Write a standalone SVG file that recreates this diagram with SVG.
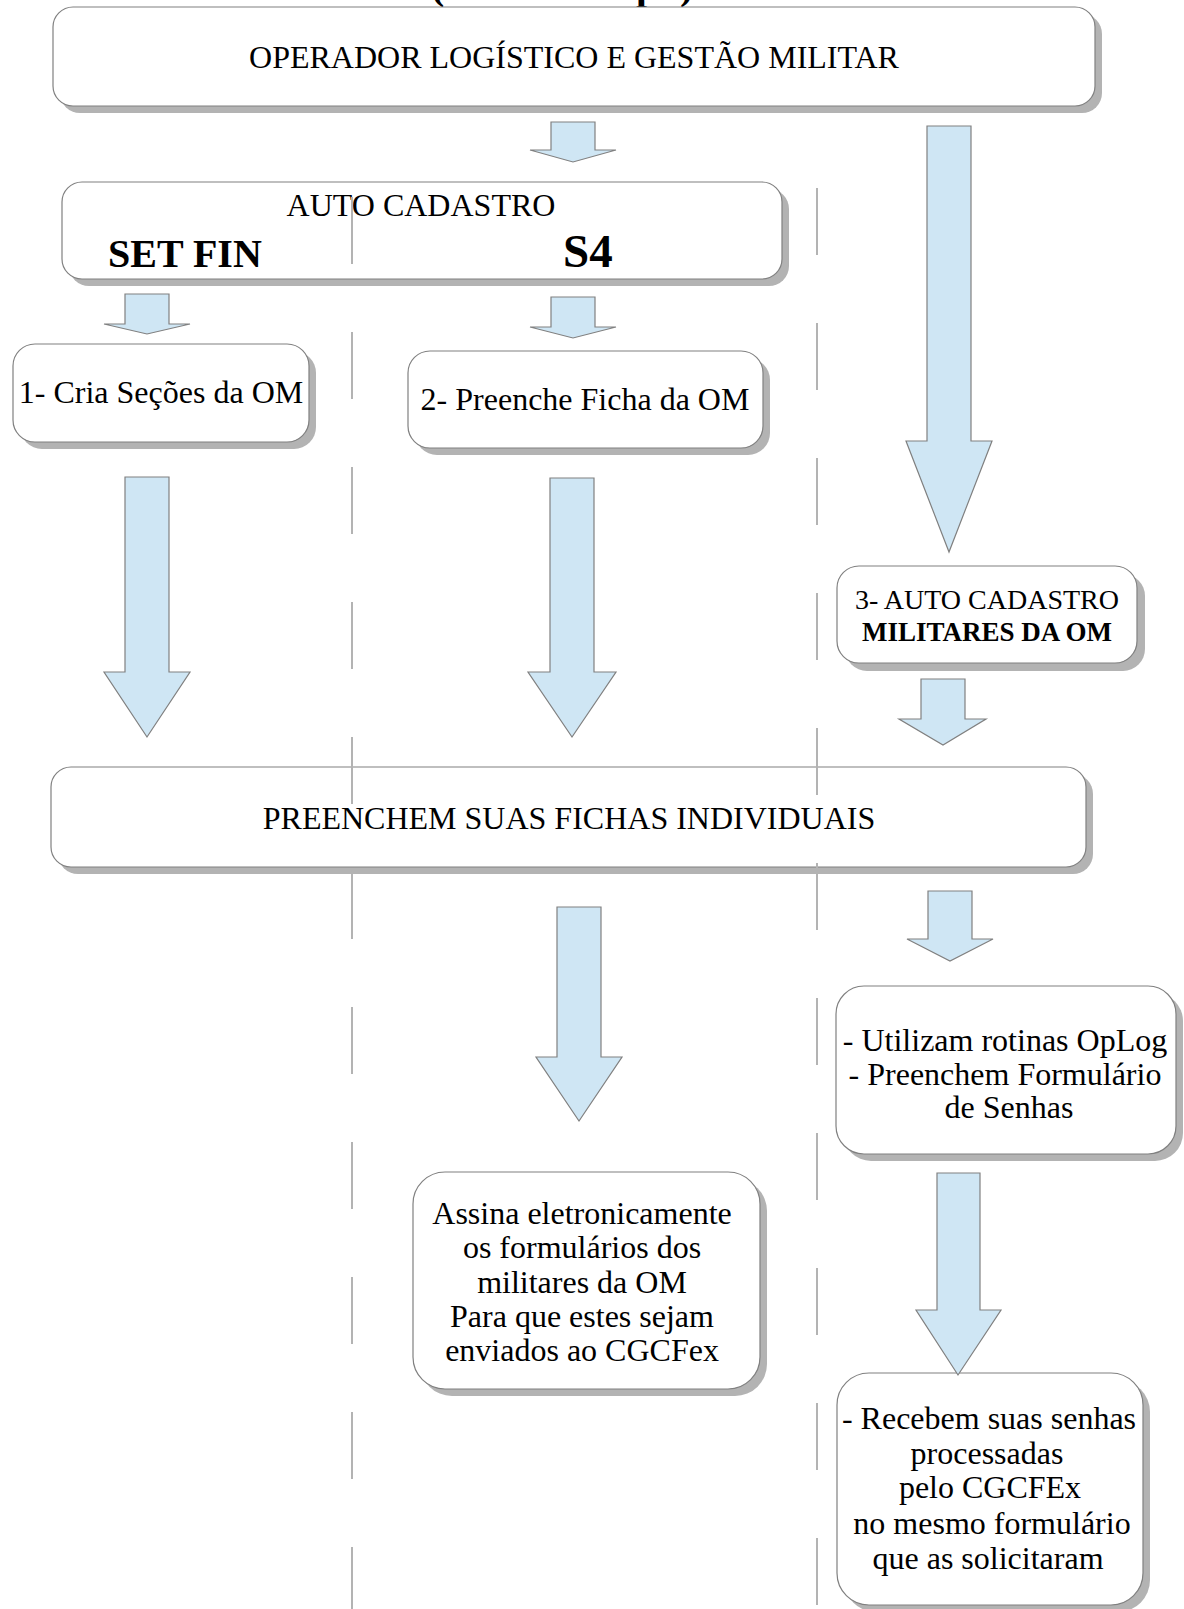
<svg xmlns="http://www.w3.org/2000/svg" width="1184" height="1609" viewBox="0 0 1184 1609">
<style>
.sh{fill:#b3b3b3;stroke:none}
.bx{fill:#ffffff;stroke:#808080;stroke-width:1.2}
.ar{fill:#cfe6f4;stroke:#808080;stroke-width:1.2;stroke-linejoin:miter}
.t{font-family:"Liberation Serif","Times New Roman",serif;font-size:32px;fill:#000000}
.c{text-anchor:middle}
.b{font-weight:bold}
.dl{stroke:#b3b3b3;stroke-width:2;stroke-dasharray:67 68;fill:none}
</style>
<rect width="1184" height="1609" fill="#ffffff"/>
<g id="title-cut" class="t b" style="font-size:40px">
<text x="431" y="-1">(</text>
<text x="636" y="-1">p</text>
<text x="680" y="-1">)</text>
</g>
<g id="n-operador">
<rect class="sh" x="60" y="14" width="1042" height="99" rx="20"/>
<rect class="bx" x="53" y="7" width="1042" height="99" rx="20"/>
<text class="t c" x="574" y="68">OPERADOR LOGÍSTICO E GESTÃO MILITAR</text>
</g>
<g id="n-autocadastro">
<rect class="sh" x="69" y="189" width="720" height="97" rx="20"/>
<rect class="bx" x="62" y="182" width="720" height="97" rx="20"/>
<text class="t c" x="421" y="216">AUTO CADASTRO</text>
<text class="t b" x="108" y="267" style="font-size:40px">SET FIN</text>
<text class="t b" x="563" y="267" style="font-size:47px">S4</text>
</g>
<g id="n-cria">
<rect class="sh" x="20" y="351" width="296" height="98" rx="22"/>
<rect class="bx" x="13" y="344" width="296" height="98" rx="22"/>
<text class="t c" x="161" y="403">1- Cria Seções da OM</text>
</g>
<g id="n-preenche">
<rect class="sh" x="415" y="358" width="355" height="97" rx="22"/>
<rect class="bx" x="408" y="351" width="355" height="97" rx="22"/>
<text class="t c" x="585" y="410">2- Preenche Ficha da OM</text>
</g>
<g id="n-militares">
<rect class="sh" x="845" y="574" width="300" height="97" rx="22"/>
<rect class="bx" x="837" y="566" width="300" height="97" rx="22"/>
<text class="t c" x="987" y="609" style="font-size:28px">3- AUTO CADASTRO</text>
<text class="t c b" x="987" y="641" style="font-size:27px">MILITARES DA OM</text>
</g>
<g id="n-fichas">
<rect class="sh" x="58" y="774" width="1035" height="100" rx="20"/>
<rect class="bx" x="51" y="767" width="1035" height="100" rx="20"/>
<text class="t c" x="569" y="829">PREENCHEM SUAS FICHAS INDIVIDUAIS</text>
</g>
<g id="n-utilizam">
<rect class="sh" x="843" y="993" width="340" height="168" rx="28"/>
<rect class="bx" x="836" y="986" width="340" height="168" rx="28"/>
<text class="t c" x="1005" y="1051">- Utilizam rotinas OpLog</text>
<text class="t c" x="1005" y="1085"> - Preenchem Formulário</text>
<text class="t c" x="1009" y="1118">de Senhas</text>
</g>
<g id="n-assina">
<rect class="sh" x="420" y="1179" width="347" height="217" rx="32"/>
<rect class="bx" x="413" y="1172" width="347" height="217" rx="32"/>
<text class="t c" x="582" y="1224">Assina eletronicamente</text>
<text class="t c" x="582" y="1258">os formulários dos</text>
<text class="t c" x="582" y="1293">militares da OM</text>
<text class="t c" x="582" y="1327">Para que estes sejam</text>
<text class="t c" x="582" y="1361">enviados ao CGCFex</text>
</g>
<g id="n-recebem">
<rect class="sh" x="844" y="1380" width="306" height="232" rx="32"/>
<rect class="bx" x="837" y="1373" width="306" height="232" rx="32"/>
<text class="t c" x="989" y="1429">- Recebem suas senhas</text>
<text class="t c" x="987" y="1464">processadas</text>
<text class="t c" x="990" y="1498">pelo CGCFEx</text>
<text class="t c" x="992" y="1534">no mesmo formulário</text>
<text class="t c" x="988" y="1569">que as solicitaram</text>
</g>
<g id="connectors">
<polygon class="ar" points="551,122 595,122 595,150 616,150 573,162 530,150 551,150"/>
<polygon class="ar" points="927,126 971,126 971,441 992,441 949,552 906,441 927,441"/>
<polygon class="ar" points="125,294 169,294 169,324 190,324 147,334 104,324 125,324"/>
<polygon class="ar" points="551,297 595,297 595,327 616,327 573,338 530,327 551,327"/>
<polygon class="ar" points="125,477 169,477 169,672 190,672 147,737 104,672 125,672"/>
<polygon class="ar" points="550,478 594,478 594,672 616,672 572,737 528,672 550,672"/>
<polygon class="ar" points="921,679 965,679 965,719 986,719 943,745 899,719 921,719"/>
<polygon class="ar" points="557,907 601,907 601,1057 622,1057 579,1121 536,1057 557,1057"/>
<polygon class="ar" points="928,891 972,891 972,939 993,939 950,961 907,939 928,939"/>
<polygon class="ar" points="937,1173 980,1173 980,1310 1001,1310 958,1375 916,1310 937,1310"/>
</g>
<g id="lanes">
<line class="dl" x1="352" y1="197" x2="352" y2="1609"/>
<line class="dl" x1="817" y1="188" x2="817" y2="1609"/>
</g>
</svg>
